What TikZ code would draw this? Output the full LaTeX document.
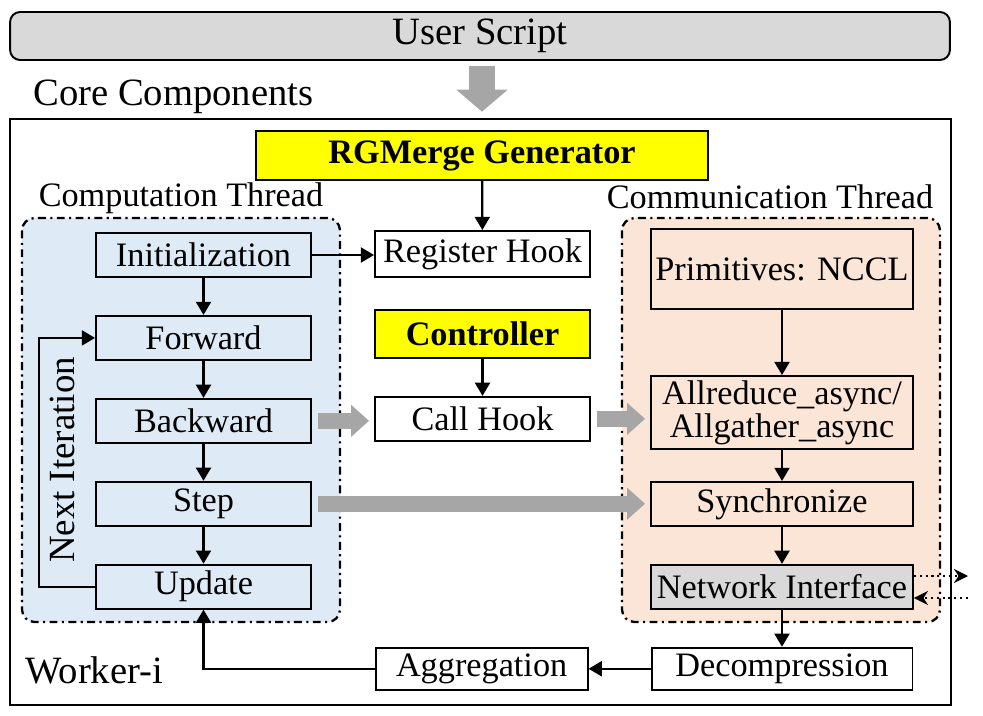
\documentclass[tikz,border=0pt]{standalone}
\usepackage{fontspec}
\setmainfont{Liberation Serif}
\usepackage{xcolor}
\usetikzlibrary{arrows.meta,positioning}
\definecolor{compblue}{RGB}{222,234,246}
\definecolor{commorange}{RGB}{251,229,214}
\definecolor{panelgray}{RGB}{217,217,217}
\definecolor{genyellow}{RGB}{255,255,0}
\definecolor{flowgray}{RGB}{166,166,166}
\newcommand{\boxfont}{\fontsize{19.5}{20}\selectfont}
\newcommand{\labelfont}{\fontsize{22}{24}\selectfont}

\begin{document}
\begin{tikzpicture}[
    x=0.02cm, y=-0.02cm,
    node distance=0.74cm,
    every node/.style={font=\boxfont},
    stage/.style={rectangle,draw,line width=1.1pt,fill=compblue,
      minimum width=4.3cm,minimum height=0.88cm,inner sep=0pt,align=center},
    hook/.style={stage,fill=white},
    gen/.style={stage,fill=genyellow,font=\boxfont\bfseries},
    comm/.style={stage,fill=commorange,minimum width=5.24cm},
    thread/.style={draw,line width=1.3pt,rounded corners=0.25cm,
      dash pattern=on 4.5pt off 2.5pt on 1.2pt off 2.5pt},
    arrow/.style={-{Triangle[length=7.5pt,width=8.5pt]},line width=1.3pt},
    flow/.style={-{Triangle[length=0.36cm,width=0.62cm]},line width=0.32cm,
      draw=flowgray,shorten <=0.12cm,shorten >=0.1cm},
    bigflow/.style={-{Triangle[length=0.44cm,width=1cm]},line width=0.52cm,
      draw=flowgray,shorten <=0.1cm,shorten >=0.12cm},
    netarrow/.style={-{Stealth[length=8pt,width=8pt]},line width=1.3pt,dotted}
  ]
    \useasboundingbox (0,0) rectangle (983,716);

    % top level
    \node[stage,fill=panelgray,rounded corners=0.2cm,minimum width=18.8cm,
      minimum height=0.96cm,font=\labelfont] (userscript) at (480,36) {User Script};
    \node[draw,line width=1.5pt,minimum width=18.82cm,minimum height=11.72cm,
      inner sep=0pt] (core) at (480.5,412) {};
    \node[anchor=west,font=\labelfont,inner sep=0pt] (corelbl) at (33,97) {Core Components};
    \node[anchor=west,font=\labelfont,inner sep=0pt] (workerlbl) at (25,670) {Worker-i};

    % thread panels
    \draw[thread,fill=compblue] (22,218) rectangle (340,622);
    \draw[thread,fill=commorange] (622,218) rectangle (940,622);
    \node (complbl) at (181,198) {Computation Thread};
    \node (commlbl) at (770,197) {Communication Thread};

    % computation thread
    \node[stage] (init) at (203.5,255) {Initialization};
    \node[stage,below=of init] (forward) {Forward};
    \node[stage,below=of forward] (backward) {Backward};
    \node[stage,below=of backward] (step) {Step};
    \node[stage,below=of step] (update) {Update};
    \node[rotate=90,font=\fontsize{21}{24}\selectfont] (nextlbl) at (62,460) {Next Iteration};

    % hooks
    \node[gen,minimum width=9.04cm,minimum height=0.98cm] (rgmerge) at (482,155.5) {RGMerge Generator};
    \node[hook,minimum height=0.92cm] (register) at (482.5,254) {Register Hook};
    \node[gen,minimum height=0.96cm,below=0.62cm of register] (controller) {Controller};
    \node[hook,below=of controller] (callhook) {Call Hook};

    % communication thread
    \node[comm,minimum height=1.6cm] (nccl) at (782,269) {Primitives: NCCL};
    \node[comm,minimum height=1.46cm] (allred) at (782,412.5) {Allreduce\_async/\\[-1pt]Allgather\_async};
    \node[comm,below=0.62cm of allred] (sync) {Synchronize};
    \node[comm,fill=panelgray,below=of sync] (netif) {Network Interface};
    \node[hook,minimum width=5.22cm,minimum height=0.84cm,below=of netif] (decomp) {Decompression};
    \node[hook,minimum width=4.24cm,minimum height=0.84cm,left=1.24cm of decomp] (aggr) {Aggregation};
    \coordinate (wireout) at (968,576);
    \coordinate (wirein) at (968,598);

    % connectors
    \draw[bigflow] (userscript.south -| rgmerge.north) -- (rgmerge.north |- core.north);
    \draw[arrow] (init) -- (forward);
    \draw[arrow] (forward) -- (backward);
    \draw[arrow] (backward) -- (step);
    \draw[arrow] (step) -- (update);
    \draw[arrow] (update.west) -- ++(-56,0) |- (forward.west);
    \draw[arrow] (init.east) -- (init.east -| register.west);
    \draw[arrow] (rgmerge) -- (register);
    \draw[arrow] (controller) -- (callhook);
    \draw[flow] (backward) -- (backward -| callhook.west);
    \draw[flow] (callhook) -- (callhook -| allred.west);
    \draw[flow] (step) -- (step -| sync.west);
    \draw[arrow] (nccl) -- (allred);
    \draw[arrow] (allred) -- (sync);
    \draw[arrow] (sync) -- (netif);
    \draw[arrow] (netif) -- (decomp);
    \draw[arrow] (decomp) -- (aggr);
    \draw[arrow] (aggr.west) -| (update.south);
    \draw[netarrow] (netif.east |- wireout) -- (wireout);
    \draw[netarrow] (wirein) -- (netif.east |- wirein);
  \end{tikzpicture}
\end{document}
